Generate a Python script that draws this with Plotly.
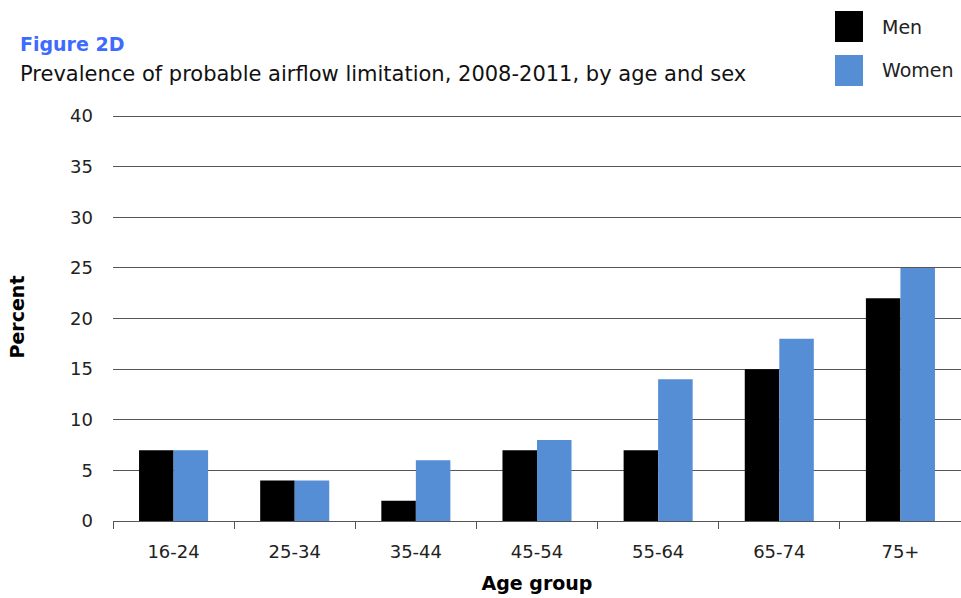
import plotly.graph_objects as go

# Age groups and prevalence (%) of probable airflow limitation, 2008-2011
age_groups = ["16-24", "25-34", "35-44", "45-54", "55-64", "65-74", "75+"]
men = [7, 4, 2, 7, 7, 15, 22]
women = [7, 4, 6, 8, 14, 18, 25]
y_ticks = [0, 5, 10, 15, 20, 25, 30, 35, 40]

MEN_COLOR = "#000000"
WOMEN_COLOR = "#558ed5"
FONT = "DejaVu Sans"

# Plot-area geometry in pixels (used to place paper-referenced text).
# The range stops a little above 40 so the top grid line is still drawn.
Y_MAX = 40.3
L, T, W, H = 113, 113, 848, 408


def px_x(x):
    return (x - L) / W


def px_y(y):
    return (T + H - y) / H


fig = go.Figure()
fig.add_trace(go.Bar(name="Men", x=age_groups, y=men, marker=dict(color=MEN_COLOR, line=dict(width=0))))
fig.add_trace(go.Bar(name="Women", x=age_groups, y=women, marker=dict(color=WOMEN_COLOR, line=dict(width=0))))

fig.update_layout(
    width=961, height=598,
    margin=dict(l=L, r=961 - L - W, t=T, b=598 - T - H),
    paper_bgcolor="white", plot_bgcolor="white",
    barmode="group", bargap=0.43, bargroupgap=0,
    showlegend=False,
    font=dict(family=FONT, size=18, color="#222222"),
    xaxis=dict(
        type="category", tickson="boundaries", ticks="outside", ticklen=7,
        tickcolor="#555555", showline=True, linecolor="#555555", linewidth=1,
        showgrid=False, tickfont=dict(size=18), ticklabelstandoff=14, automargin=False,
        title=dict(text="<b>Age group</b>", font=dict(size=19, color="#000000"), standoff=16),
    ),
    yaxis=dict(
        range=[0, Y_MAX], tickvals=y_ticks, showgrid=True, gridcolor="#555555", gridwidth=1,
        zeroline=False, showline=False, ticks="", tickfont=dict(size=18),
        ticklabelstandoff=19, automargin=False,
        title=dict(text="<b>Percent</b>", font=dict(size=19, color="#000000"), standoff=40),
    ),
)

# Heading
fig.add_annotation(text="<b>Figure 2D</b>", xref="paper", yref="paper", x=px_x(18), y=px_y(44),
                   xanchor="left", yanchor="middle", showarrow=False,
                   font=dict(family=FONT, size=19, color="#3d6bff"))
fig.add_annotation(text="Prevalence of probable airflow limitation, 2008-2011, by age and sex",
                   xref="paper", yref="paper", x=px_x(18), y=px_y(74),
                   xanchor="left", yanchor="middle", showarrow=False,
                   font=dict(family=FONT, size=21, color="#111111"))

# Legend drawn as large swatches with labels
legend_items = [("Men", MEN_COLOR, 11, 42), ("Women", WOMEN_COLOR, 55, 86)]
for label, color, top, bottom in legend_items:
    fig.add_shape(type="rect", xref="paper", yref="paper",
                  x0=px_x(835), x1=px_x(863), y0=px_y(bottom), y1=px_y(top),
                  fillcolor=color, line=dict(width=0))
    fig.add_annotation(text=label, xref="paper", yref="paper", x=px_x(880),
                       y=px_y((top + bottom) / 2), xanchor="left", yanchor="middle", showarrow=False,
                       font=dict(family=FONT, size=19, color="#222222"))

fig.write_html("out.html")
